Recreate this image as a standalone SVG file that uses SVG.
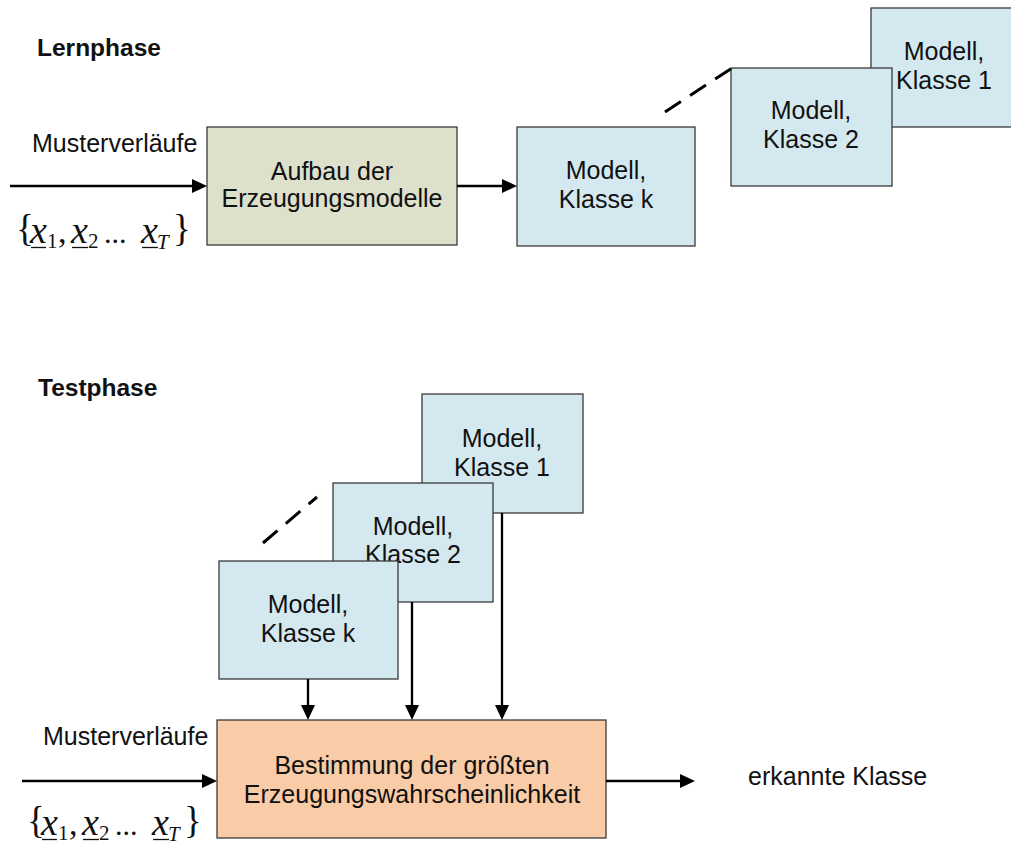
<svg xmlns="http://www.w3.org/2000/svg" width="1011" height="843" viewBox="0 0 1011 843">
  <defs>
    <style>
      .lbl { font-family: "Liberation Sans", Arial, sans-serif; font-size: 25px; fill: #111; }
      .ctr { text-anchor: middle; }
      .head { font-family: "Liberation Sans", Arial, sans-serif; font-size: 24.5px; font-weight: bold; fill: #111; }
      .box { stroke: #3a3a3a; stroke-width: 1.3; }
      .model { fill: #d4e9ef; }
      .build { fill: #dde0cb; }
      .decide { fill: #f9cba6; }
      .wire { stroke: #000; stroke-width: 2.3; fill: none; }
      .dash { stroke: #000; stroke-width: 3; stroke-dasharray: 19 11; fill: none; }
      .m { font-family: "Liberation Serif", "Times New Roman", serif; fill: #111; }
      .mi { font-style: italic; font-size: 38px; }
      .mr { font-size: 34px; }
      .br { font-size: 37px; }
      .sub { font-size: 21px; }
      .ul { stroke: #111; stroke-width: 1.3; }
    </style>
    <marker id="arrow" markerUnits="userSpaceOnUse" markerWidth="16" markerHeight="14" refX="7" refY="7" orient="auto">
      <path d="M0,0 L15,7 L0,14 z" fill="#000"/>
    </marker>
    <!-- pattern sequence {x1, x2 ... xT} -->
    <g id="seq" class="m">
      <text class="br" x="16" y="241">{</text>
      <text class="mi" x="30" y="243">x</text>
      <line class="ul" x1="31" y1="247.5" x2="46" y2="247.5"/>
      <text class="sub" x="47" y="248">1</text>
      <text class="mr" x="58" y="243">,</text>
      <text class="mi" x="71" y="243">x</text>
      <line class="ul" x1="72" y1="247.5" x2="88" y2="247.5"/>
      <text class="sub" x="88" y="248">2</text>
      <text class="mr" x="104" y="243" style="font-size:30px">...</text>
      <text class="mi" x="141" y="243">x</text>
      <line class="ul" x1="142" y1="247.5" x2="158" y2="247.5"/>
      <text class="sub" x="157" y="249" font-style="italic">T</text>
      <text class="br" x="173" y="241">}</text>
    </g>
  </defs>

  <!-- learning phase -->
  <text class="head" x="37" y="56">Lernphase</text>
  <text class="lbl" x="32" y="152">Musterverläufe</text>
  <use href="#seq"/>

  <g id="learn-model-1">
    <rect class="box model" x="871" y="8" width="147" height="119"/>
    <text class="lbl ctr" x="944" y="60">Modell,</text>
    <text class="lbl ctr" x="944" y="89">Klasse 1</text>
  </g>
  <g id="learn-model-2">
    <rect class="box model" x="731" y="68" width="161" height="118"/>
    <text class="lbl ctr" x="811" y="119">Modell,</text>
    <text class="lbl ctr" x="811" y="148">Klasse 2</text>
  </g>
  <g id="learn-model-k">
    <rect class="box model" x="517" y="127" width="178" height="119"/>
    <text class="lbl ctr" x="606" y="179">Modell,</text>
    <text class="lbl ctr" x="606" y="208">Klasse k</text>
  </g>
  <g id="build">
    <rect class="box build" x="207" y="127" width="250" height="118"/>
    <text class="lbl ctr" x="332" y="180">Aufbau der</text>
    <text class="lbl ctr" x="332" y="207">Erzeugungsmodelle</text>
  </g>

  <!-- test phase -->
  <text class="head" x="38" y="396">Testphase</text>
  <text class="lbl" x="43" y="745">Musterverläufe</text>
  <use href="#seq" transform="translate(11,592)"/>

  <g id="test-model-1">
    <rect class="box model" x="422" y="394" width="161" height="119"/>
    <text class="lbl ctr" x="502" y="447">Modell,</text>
    <text class="lbl ctr" x="502" y="476">Klasse 1</text>
  </g>
  <g id="test-model-2">
    <rect class="box model" x="333" y="483" width="160" height="119"/>
    <text class="lbl ctr" x="413" y="535">Modell,</text>
    <text class="lbl ctr" x="413" y="563">Klasse 2</text>
  </g>
  <g id="test-model-k">
    <rect class="box model" x="219" y="561" width="179" height="118"/>
    <text class="lbl ctr" x="308" y="613">Modell,</text>
    <text class="lbl ctr" x="308" y="642">Klasse k</text>
  </g>
  <g id="decide">
    <rect class="box decide" x="217" y="720" width="389" height="118"/>
    <text class="lbl ctr" x="412" y="774">Bestimmung der größten</text>
    <text class="lbl ctr" x="412" y="803">Erzeugungswahrscheinlichkeit</text>
  </g>
  <text class="lbl" x="748" y="785">erkannte Klasse</text>

  <g id="connectors">
    <line class="wire" x1="10" y1="186" x2="199" y2="186" marker-end="url(#arrow)"/>
    <line class="wire" x1="457" y1="186" x2="509" y2="186" marker-end="url(#arrow)"/>
    <line class="dash" x1="665" y1="112" x2="732" y2="68"/>

    <line class="dash" x1="263" y1="543" x2="317" y2="497"/>
    <line class="wire" x1="308" y1="679" x2="308" y2="712" marker-end="url(#arrow)"/>
    <line class="wire" x1="412" y1="602" x2="412" y2="712" marker-end="url(#arrow)"/>
    <line class="wire" x1="502" y1="513" x2="502" y2="712" marker-end="url(#arrow)"/>
    <line class="wire" x1="22" y1="781" x2="209" y2="781" marker-end="url(#arrow)"/>
    <line class="wire" x1="606" y1="781" x2="687" y2="781" marker-end="url(#arrow)"/>
  </g>
</svg>
